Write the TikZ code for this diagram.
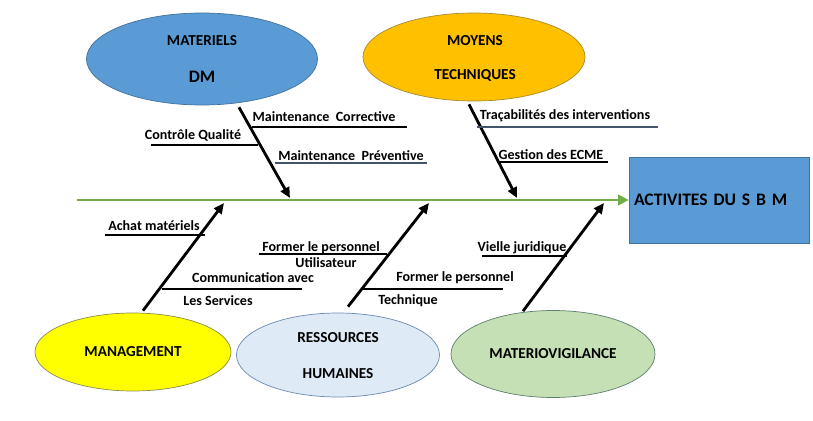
\documentclass[tikz,border=0pt]{standalone}
\usepackage{fontspec}
\setmainfont{Carlito}
\usetikzlibrary{shapes.geometric,arrows.meta}
\definecolor{dmblue}{HTML}{5B9BD5}
\definecolor{dmedge}{HTML}{41719C}
\definecolor{techgold}{HTML}{FFC000}
\definecolor{techedge}{HTML}{A88A2E}
\definecolor{mgtyellow}{HTML}{FFFF00}
\definecolor{mgtedge}{HTML}{8C8C50}
\definecolor{rhblue}{HTML}{DEEBF7}
\definecolor{rhedge}{HTML}{6A8AB0}
\definecolor{mvgreen}{HTML}{C5E0B4}
\definecolor{mvedge}{HTML}{5F7F6F}
\definecolor{spinegreen}{HTML}{70AD47}
\definecolor{slate}{HTML}{44546A}

\begin{document}
\begin{tikzpicture}[x=0.03cm,y=-0.03cm,
    cause/.style={ellipse, line width=0.6pt, inner sep=0pt, align=center,
                  font=\bfseries\fontsize{13}{15}\selectfont},
    bone/.style={line width=2.4pt, -{Triangle[length=9pt,width=8pt]}},
    spine/.style={spinegreen, line width=2.4pt, -{Triangle[length=9pt,width=9pt]}},
    lbl/.style={font=\bfseries\fontsize{12}{14}\selectfont, inner sep=0pt},
    ul/.style={line width=2pt}]
    \useasboundingbox (0,0) rectangle (813,420);

    % causes
    \node[cause, fill=dmblue, draw=dmedge, minimum width=6.93cm, minimum height=2.76cm]
        (mat) at (202,59) {};
    \node[cause] (matA) at (202,41) {MATERIELS};
    \node[cause, font=\bfseries\fontsize{15}{17}\selectfont] (matB) at (202,77) {DM};
    \node[cause, fill=techgold, draw=techedge, minimum width=6.66cm, minimum height=2.64cm]
        (moy) at (474,57) {};
    \node[cause] (moyA) at (475,41) {MOYENS};
    \node[cause] (moyB) at (475,75) {TECHNIQUES};
    \node[cause, fill=mgtyellow, draw=mgtedge, minimum width=5.88cm, minimum height=2.34cm]
        (mgt) at (133,352) {MANAGEMENT};
    \node[cause, fill=rhblue, draw=rhedge, minimum width=6.09cm, minimum height=2.52cm]
        (rh) at (338,355) {};
    \node[cause] (rhA) at (338,338) {RESSOURCES};
    \node[cause] (rhB) at (338,374) {HUMAINES};
    \node[cause, fill=mvgreen, draw=mvedge, minimum width=6.12cm, minimum height=2.61cm]
        (mv) at (553,354) {MATERIOVIGILANCE};

    % effect
    \node[draw=dmedge, fill=dmblue, line width=0.6pt, minimum width=5.4cm, minimum height=2.58cm,
          font=\bfseries\fontsize{15}{17}\selectfont, text width=5.1cm, align=left]
        (sbm) at (719,200) {ACTIVITES DU S B M};

    % spine
    \coordinate (tail) at (77,200);
    \draw[spine] (tail) -- (sbm.west);

    % bones
    \coordinate (b1) at (290,198);
    \coordinate (b2) at (517,198);
    \coordinate (b3) at (224,203);
    \coordinate (b4) at (429,203);
    \coordinate (b5) at (604,203);
    \draw[bone] ([shift={(37,2)}]mat.south) -- (b1);
    \draw[bone] ([shift={(-5,3)}]moy.south) -- (b2);
    \draw[bone] ([shift={(10,-2)}]mgt.north) -- (b3);
    \draw[bone] ([shift={(10,-6)}]rh.north) -- (b4);
    \draw[bone] ([shift={(-30,1)}]mv.north) -- (b5);

    % sub causes
    \node[lbl] (mc) at (324,117) {Maintenance\ \ Corrective};
    \draw[ul] (252,127) -- (407,127);
    \node[lbl] (cq) at (193,135) {Contrôle Qualité};
    \draw[ul] (151,145) -- (258,145);
    \node[lbl] (mp) at (351,156) {Maintenance\ \ Préventive};
    \draw[ul, slate] (275,163) -- (427,163);
    \node[lbl] (tr) at (565,116) {Traçabilités des interventions};
    \draw[ul, slate] (477,127) -- (658,127);
    \node[lbl] (ge) at (551,155) {Gestion des ECME};
    \draw[ul] (497,162) -- (608,162);
    \node[lbl] (am) at (154,226) {Achat matériels};
    \draw[ul] (105,235) -- (205,235);
    \node[lbl] (fu) at (321,248) {Former le personnel};
    \draw[ul, line width=1.2pt] (259,254) -- (387,254);
    \node[lbl] (ut) at (326,263) {Utilisateur};
    \node[lbl] (co) at (253,278) {Communication avec};
    \draw[ul] (162,289) -- (302,289);
    \node[lbl] (ls) at (218,301) {Les Services};
    \node[lbl] (ft) at (455,278) {Former le personnel};
    \draw[ul] (362,289) -- (503,289);
    \node[lbl] (te) at (408,301) {Technique};
    \node[lbl] (vj) at (522,248) {Vielle juridique};
    \draw[ul] (482,256) -- (567,256);
\end{tikzpicture}
\end{document}
